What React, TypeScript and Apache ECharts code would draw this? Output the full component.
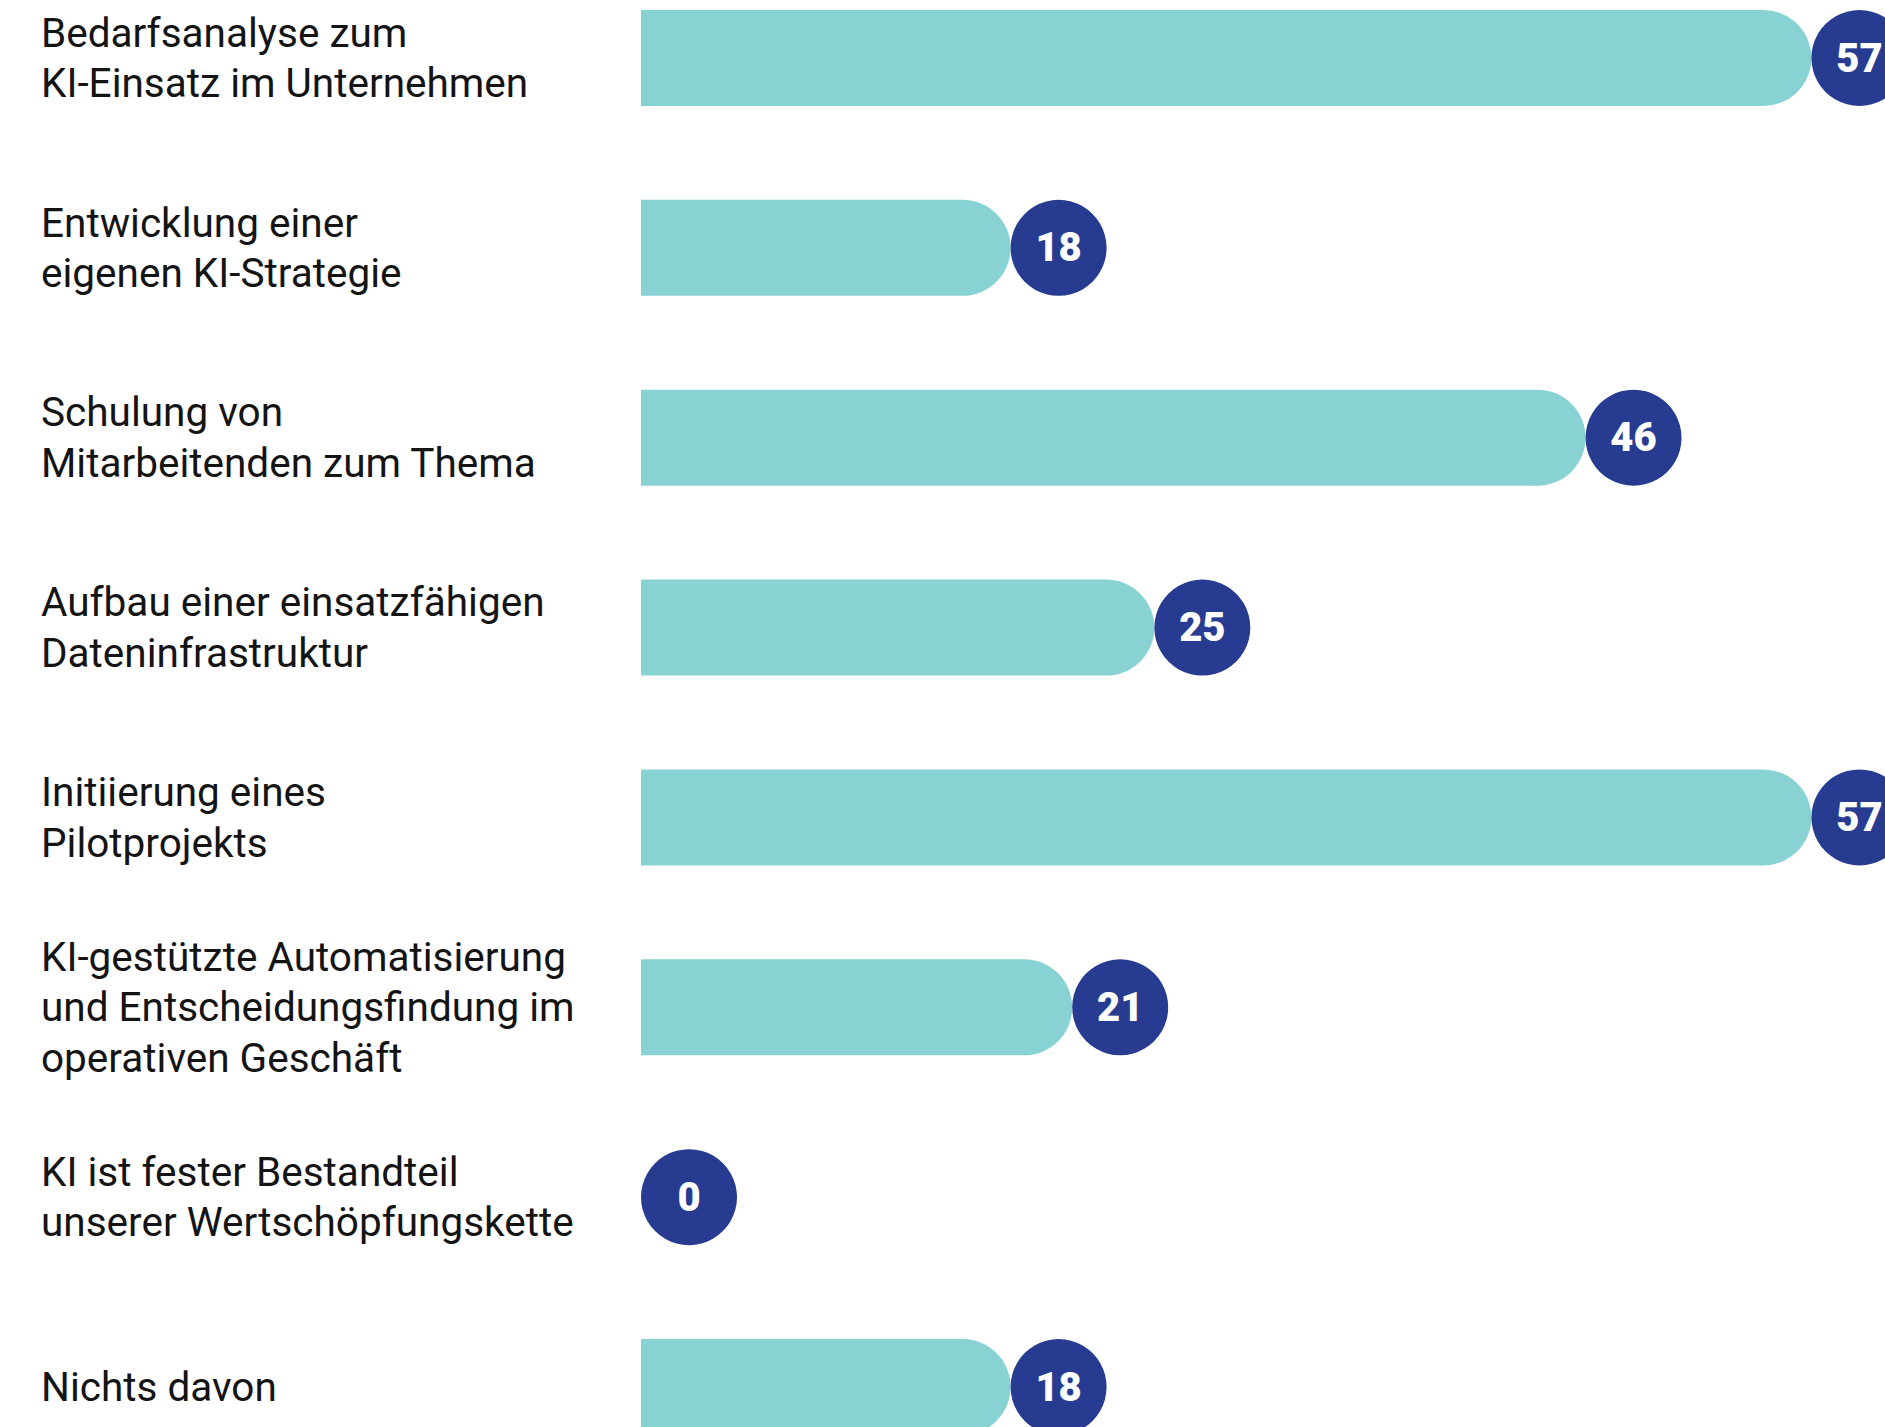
import React, { useEffect, useRef } from "react";
import * as echarts from "echarts";

const categories: string[] = [
  "Bedarfsanalyse zum\nKI-Einsatz im Unternehmen",
  "Entwicklung einer\neigenen KI-Strategie",
  "Schulung von\nMitarbeitenden zum Thema",
  "Aufbau einer einsatzfähigen\nDateninfrastruktur",
  "Initiierung eines\nPilotprojekts",
  "KI-gestützte Automatisierung\nund Entscheidungsfindung im\noperativen Geschäft",
  "KI ist fester Bestandteil\nunserer Wertschöpfungskette",
  "Nichts davon",
];

const values: number[] = [57, 18, 46, 25, 57, 21, 0, 18];

const BAR_COLOR = "#88D2D3";
const CIRCLE_COLOR = "#273C91";

export default function App() {
  const ref = useRef<HTMLDivElement>(null);

  useEffect(() => {
    if (!ref.current) return;
    const chart = echarts.init(ref.current, null, { renderer: "svg" });
    const option: any = {
      animation: false,
      backgroundColor: "#ffffff",
      grid: { left: 641, right: 12, top: 58, bottom: 40, containLabel: false },
      xAxis: {
        type: "value",
        min: 0,
        max: 60,
        show: false,
        splitLine: { show: false },
      },
      yAxis: {
        type: "category",
        data: categories,
        inverse: true,
        boundaryGap: false,
        axisLine: { show: false },
        axisTick: { show: false },
        splitLine: { show: false },
        axisLabel: {
          align: "left",
          margin: 600,
          padding: [7, 0, 0, 0],
          fontFamily: "'Roboto', sans-serif",
          fontSize: 40.5,
          lineHeight: 50.5,
          color: "#141414",
        },
      },
      series: [
        {
          type: "bar",
          data: values,
          barWidth: 96,
          itemStyle: { color: BAR_COLOR, borderRadius: [0, 48, 48, 0] },
          silent: true,
        },
        {
          type: "scatter",
          data: values.map((v, i) => [v, i]),
          symbol: "circle",
          symbolSize: 96,
          symbolOffset: [48, 0],
          itemStyle: { color: CIRCLE_COLOR, opacity: 1 },
          label: {
            show: true,
            position: "inside",
            formatter: (p: any) => String(p.value[0]),
            color: "#ffffff",
            fontFamily: "'Roboto', sans-serif",
            fontWeight: 900,
            fontSize: 40,
          },
          silent: true,
          z: 3,
        },
      ],
    };
    chart.setOption(option);
    return () => chart.dispose();
  }, []);

  return (
    <div
      ref={ref}
      style={{ position: "fixed", left: 0, top: 0, width: 1885, height: 1427 }}
    />
  );
}
